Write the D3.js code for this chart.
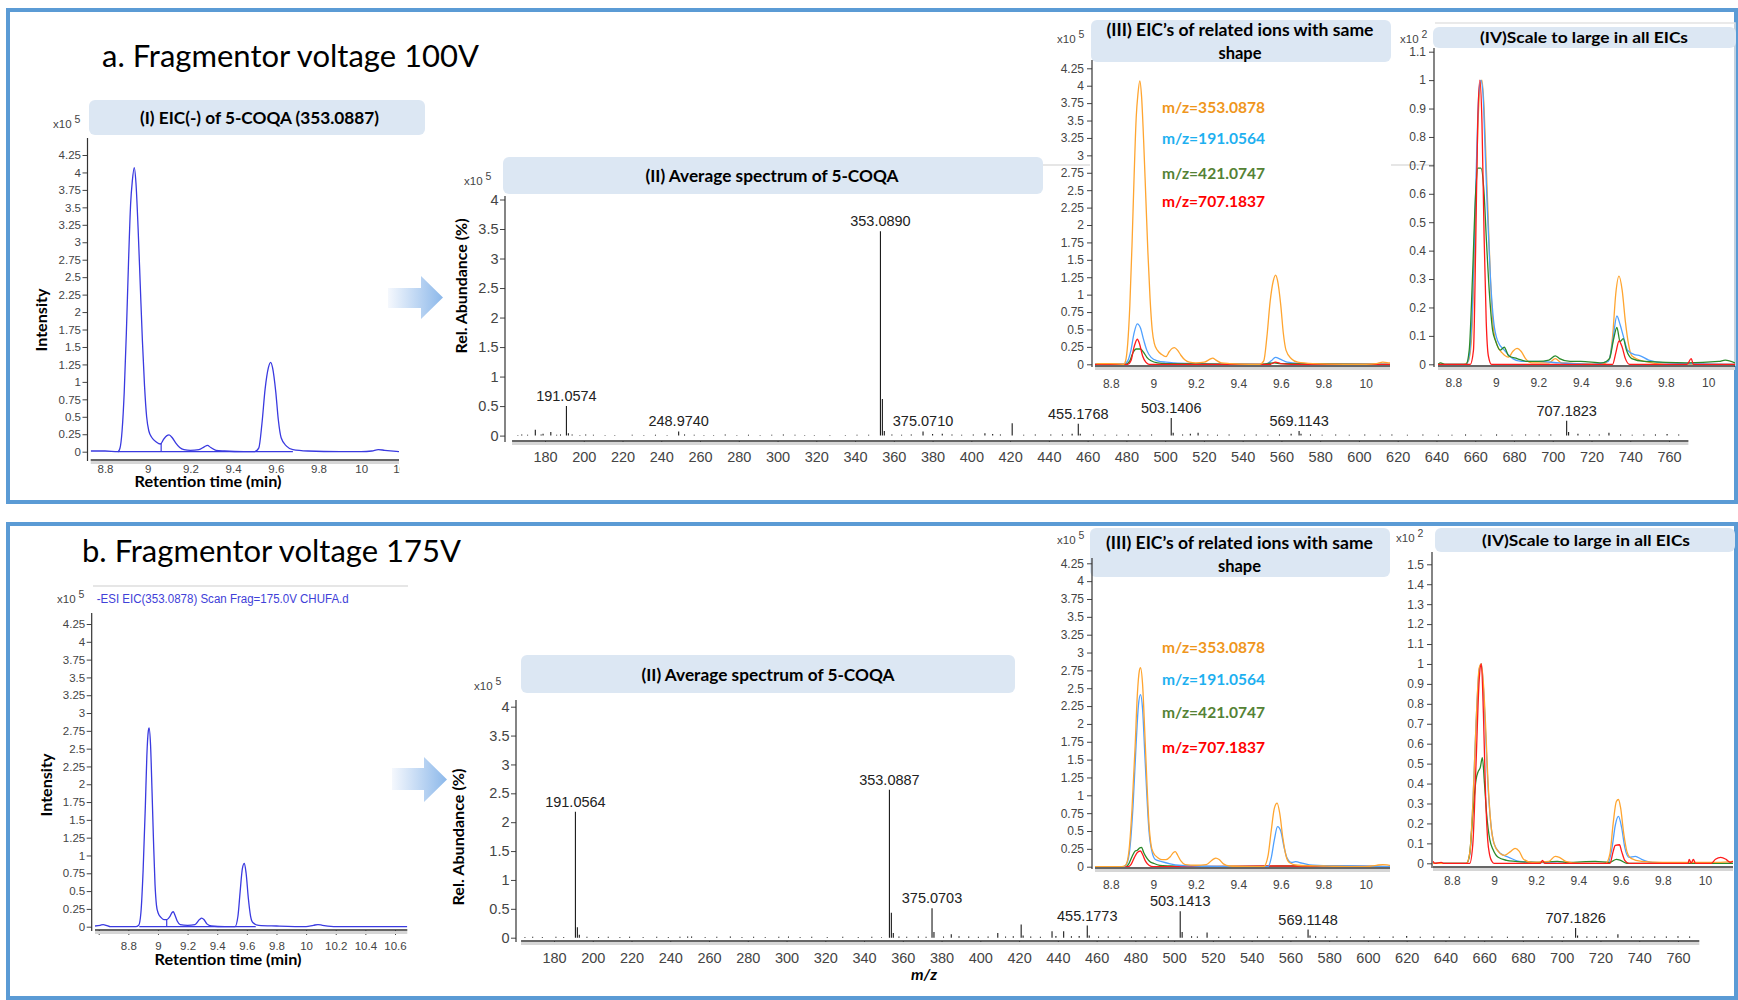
<!DOCTYPE html>
<html>
<head>
<meta charset="utf-8">
<script src="https://cdn.jsdelivr.net/npm/d3@7"></script>
<style>
body { margin: 0; background: #fff; overflow: hidden; }
svg { display: block; }
</style>
</head>
<body>
<script>
// ---- data: retention time (min), intensity (x10^5 or x10^2) ----
const eicA = [[8.733,0.01],[8.80,0.01],[8.86,0.0],[8.87,0.05],[8.88,0.3],[8.89,0.85],[8.90,1.7],[8.91,2.7],[8.92,3.55],[8.928,3.88],[8.937,4.07],[8.945,3.85],[8.955,3.2],[8.965,2.4],[8.975,1.6],[8.985,0.95],[8.995,0.5],[9.005,0.3],[9.02,0.2],[9.04,0.14],[9.06,0.11],[9.075,0.18],[9.09,0.23],[9.1,0.24],[9.115,0.2],[9.13,0.13],[9.15,0.06],[9.17,0.03],[9.2,0.02],[9.24,0.03],[9.265,0.07],[9.28,0.09],[9.295,0.06],[9.32,0.02],[9.36,0.01],[9.45,0.0],[9.5,0.0],[9.52,0.05],[9.535,0.4],[9.55,0.9],[9.565,1.2],[9.576,1.28],[9.585,1.2],[9.6,0.85],[9.612,0.45],[9.625,0.2],[9.65,0.08],[9.68,0.03],[9.75,0.01],[9.9,0.0],[10.0,0.0],[10.05,0.01],[10.08,0.03],[10.11,0.02],[10.177,0.0]];
const eicADrop = [9.063, 0.12];
const eicB = [[8.575,0.01],[8.61,0.02],[8.63,0.03],[8.65,0.02],[8.68,0.0],[8.85,0.0],[8.87,0.02],[8.885,0.2],[8.9,0.8],[8.915,1.7],[8.925,2.4],[8.935,2.75],[8.94,2.79],[8.95,2.55],[8.96,1.9],[8.97,1.2],[8.98,0.6],[8.99,0.3],[9.0,0.2],[9.02,0.13],[9.04,0.1],[9.06,0.1],[9.08,0.14],[9.095,0.2],[9.104,0.21],[9.115,0.16],[9.13,0.08],[9.15,0.03],[9.2,0.02],[9.25,0.03],[9.28,0.1],[9.295,0.12],[9.31,0.1],[9.33,0.04],[9.36,0.01],[9.45,0.0],[9.52,0.0],[9.54,0.15],[9.555,0.5],[9.57,0.82],[9.583,0.89],[9.595,0.75],[9.61,0.4],[9.625,0.15],[9.64,0.06],[9.68,0.02],[9.8,0.01],[10.0,0.0],[10.05,0.02],[10.08,0.03],[10.11,0.02],[10.2,0.0],[10.683,0.0]];
const eicBDrop = [9.059, 0.1];

const iiiA191 = [[8.726,0],[8.86,0],[8.88,0.05],[8.895,0.2],[8.91,0.45],[8.925,0.58],[8.94,0.52],[8.955,0.35],[8.97,0.2],[8.99,0.1],[9.02,0.05],[9.06,0.03],[9.1,0.02],[9.2,0.01],[9.4,0.0],[9.53,0.0],[9.555,0.05],[9.575,0.1],[9.6,0.07],[9.63,0.03],[9.7,0.01],[9.8,0],[10.114,0]];
const iiiA421 = [[8.726,0],[8.87,0],[8.89,0.05],[8.905,0.17],[8.92,0.22],[8.94,0.22],[8.955,0.17],[8.97,0.1],[8.99,0.05],[9.02,0.02],[9.06,0.01],[9.5,0],[9.57,0.02],[9.6,0.01],[10.114,0]];
const iiiA707 = [[8.726,0],[8.88,0],[8.895,0.05],[8.91,0.25],[8.925,0.36],[8.935,0.3],[8.95,0.12],[8.965,0.03],[8.98,0],[9.55,0],[9.575,0.03],[9.6,0.01],[9.65,0],[10.114,0]];

const ivA353 = [[8.728,0],[8.85,0],[8.87,0.01],[8.885,0.08],[8.9,0.4],[8.915,0.82],[8.925,0.97],[8.935,1.0],[8.945,0.9],[8.955,0.7],[8.965,0.5],[8.975,0.3],[8.99,0.12],[9.005,0.07],[9.03,0.04],[9.06,0.025],[9.08,0.045],[9.1,0.056],[9.12,0.045],[9.14,0.02],[9.17,0.005],[9.25,0.005],[9.28,0.02],[9.31,0.005],[9.5,0.0],[9.535,0.02],[9.55,0.1],[9.565,0.25],[9.58,0.31],[9.595,0.26],[9.61,0.15],[9.625,0.07],[9.64,0.03],[9.7,0.01],[9.8,0],[10.126,0]];
const ivA191 = [[8.728,0],[8.86,0],[8.875,0.03],[8.89,0.2],[8.905,0.6],[8.92,0.95],[8.93,1.0],[8.94,0.95],[8.95,0.75],[8.96,0.55],[8.975,0.3],[8.99,0.15],[9.01,0.08],[9.04,0.05],[9.08,0.02],[9.12,0.01],[9.2,0.01],[9.3,0.005],[9.45,0.0],[9.53,0.01],[9.55,0.08],[9.57,0.17],[9.585,0.14],[9.6,0.1],[9.62,0.05],[9.65,0.035],[9.68,0.03],[9.72,0.015],[9.8,0.005],[10.126,0]];
const ivA421 = [[8.728,0],[8.74,0.005],[8.76,0],[8.86,0],[8.875,0.05],[8.89,0.3],[8.905,0.6],[8.915,0.69],[8.93,0.69],[8.945,0.6],[8.955,0.45],[8.97,0.25],[8.985,0.12],[9.0,0.08],[9.02,0.05],[9.04,0.06],[9.06,0.03],[9.1,0.02],[9.15,0.01],[9.2,0.01],[9.25,0.015],[9.28,0.03],[9.3,0.02],[9.35,0.01],[9.4,0.01],[9.5,0.005],[9.535,0.02],[9.555,0.09],[9.57,0.13],[9.585,0.08],[9.6,0.09],[9.615,0.05],[9.64,0.02],[9.7,0.01],[9.9,0.005],[10.05,0.01],[10.08,0.015],[10.126,0.005]];
const ivA707 = [[8.728,0],[8.88,0],[8.895,0.05],[8.905,0.4],[8.915,0.85],[8.925,1.0],[8.935,0.85],[8.945,0.45],[8.955,0.15],[8.965,0.03],[8.98,0],[9.55,0],[9.565,0.04],[9.58,0.082],[9.595,0.06],[9.61,0.02],[9.63,0],[9.9,0],[9.92,0.02],[9.93,0],[10.126,0]];

const iiiB191 = [[8.726,0],[8.86,0],[8.875,0.04],[8.89,0.25],[8.905,0.85],[8.92,1.75],[8.93,2.25],[8.94,2.41],[8.95,2.2],[8.96,1.6],[8.97,1.0],[8.98,0.5],[8.995,0.2],[9.01,0.1],[9.04,0.07],[9.08,0.04],[9.12,0.02],[9.2,0.01],[9.4,0],[9.54,0.0],[9.555,0.12],[9.57,0.38],[9.585,0.56],[9.6,0.5],[9.615,0.28],[9.63,0.12],[9.65,0.06],[9.67,0.07],[9.7,0.05],[9.75,0.02],[9.85,0.01],[9.92,0.01],[10.114,0]];
const iiiB421 = [[8.726,0],[8.87,0],[8.885,0.04],[8.9,0.14],[8.915,0.22],[8.925,0.23],[8.935,0.26],[8.945,0.27],[8.955,0.2],[8.97,0.12],[8.985,0.07],[9.0,0.05],[9.03,0.02],[9.08,0.01],[9.2,0],[9.6,0.01],[10.114,0]];
const iiiB707 = [[8.726,0],[8.88,0],[8.895,0.03],[8.91,0.12],[8.925,0.2],[8.94,0.22],[8.95,0.17],[8.965,0.07],[8.98,0.02],[9.0,0],[9.58,0.01],[10.114,0]];

const ivB353 = [[8.711,0],[8.87,0],[8.885,0.05],[8.9,0.3],[8.915,0.7],[8.93,0.98],[8.94,1.0],[8.95,0.9],[8.96,0.7],[8.97,0.45],[8.985,0.2],[9.0,0.1],[9.02,0.06],[9.05,0.04],[9.08,0.06],[9.1,0.075],[9.12,0.06],[9.14,0.02],[9.18,0.005],[9.26,0.01],[9.29,0.035],[9.31,0.03],[9.34,0.01],[9.4,0],[9.53,0],[9.55,0.05],[9.565,0.2],[9.58,0.31],[9.59,0.32],[9.6,0.28],[9.615,0.15],[9.63,0.06],[9.65,0.025],[9.7,0.01],[9.8,0.005],[10.06,0.005],[10.133,0.01]];
const ivB191 = [[8.711,0],[8.87,0],[8.885,0.04],[8.9,0.3],[8.915,0.7],[8.93,0.97],[8.94,1.0],[8.95,0.88],[8.96,0.66],[8.97,0.42],[8.985,0.2],[9.0,0.1],[9.03,0.05],[9.07,0.03],[9.12,0.01],[9.2,0.005],[9.4,0],[9.54,0],[9.56,0.08],[9.575,0.19],[9.59,0.235],[9.605,0.18],[9.62,0.08],[9.64,0.03],[9.67,0.035],[9.7,0.02],[9.75,0.005],[10.133,0]];
const ivB421 = [[8.711,0],[8.87,0],[8.885,0.05],[8.9,0.25],[8.915,0.42],[8.925,0.46],[8.935,0.48],[8.945,0.53],[8.955,0.4],[8.965,0.25],[8.98,0.12],[8.995,0.07],[9.02,0.03],[9.06,0.015],[9.1,0.01],[9.2,0.005],[9.3,0.01],[9.35,0.005],[9.48,0.01],[9.55,0.005],[9.58,0.02],[9.6,0.015],[9.63,0.0],[10.133,0]];
const ivB707 = [[8.711,0.01],[8.72,0.0],[8.75,0.005],[8.76,0],[8.885,0],[8.9,0.1],[8.915,0.5],[8.93,0.92],[8.94,1.0],[8.95,0.75],[8.96,0.35],[8.97,0.12],[8.98,0.04],[8.99,0.01],[9.0,0],[9.22,0],[9.23,0.015],[9.24,0],[9.55,0],[9.565,0.06],[9.575,0.09],[9.595,0.093],[9.605,0.06],[9.62,0.015],[9.64,0],[9.92,0],[9.925,0.02],[9.935,0],[9.945,0.02],[9.955,0],[10.03,0],[10.05,0.02],[10.075,0.03],[10.1,0.02],[10.12,0.005],[10.133,0.01]];

// ---- data: average spectra, m/z and abundance (x10^5) ----
const specAPeaks = [[175.0,0.10],[179.0,0.03],[183.0,0.06],[191.0574,0.50],[192.06,0.04],[201.0,0.02],[248.974,0.07],[353.089,3.46],[354.092,0.62],[355.09,0.08],[375.071,0.07],[385.0,0.03],[407.0,0.04],[421.07,0.21],[455.1768,0.20],[456.18,0.03],[503.1406,0.30],[504.14,0.05],[517.0,0.05],[569.1143,0.08],[570.1,0.03],[707.1823,0.25],[708.18,0.06],[729.0,0.05]];
const specANoise = [[166,0.01],[168,0.02],[171,0.015],[178,0.02],[186,0.015],[188,0.02],[194,0.02],[198,0.01],[205,0.015],[211,0.01],[216,0.01],[225,0.015],[231,0.01],[237,0.015],[243,0.01],[252,0.02],[257,0.015],[262,0.01],[267,0.01],[273,0.02],[279,0.01],[285,0.015],[291,0.01],[297,0.015],[303,0.02],[309,0.015],[314,0.01],[319,0.01],[327,0.01],[335,0.01],[341,0.015],[347,0.015],[359,0.02],[364,0.015],[369,0.02],[380,0.025],[390,0.02],[395,0.015],[401,0.02],[411,0.025],[415,0.02],[427,0.015],[433,0.02],[441,0.02],[447,0.02],[452,0.03],[463,0.02],[469,0.015],[475,0.015],[481,0.02],[487,0.015],[493,0.02],[509,0.02],[513,0.03],[522,0.02],[527,0.015],[533,0.02],[541,0.015],[547,0.02],[553,0.015],[559,0.02],[565,0.03],[575,0.02],[581,0.015],[588,0.02],[595,0.015],[603,0.02],[611,0.015],[617,0.02],[625,0.015],[633,0.02],[641,0.015],[648,0.015],[655,0.02],[663,0.015],[671,0.02],[679,0.015],[686,0.02],[693,0.02],[699,0.02],[713,0.03],[719,0.02],[724,0.02],[735,0.02],[741,0.015],[747,0.02],[753,0.02],[759,0.025],[765,0.02]];
const specALabels = ["191.0574","248.9740","353.0890","375.0710","455.1768","503.1406","569.1143","707.1823"];

const specBPeaks = [[191.0564,2.18],[192.06,0.18],[193.06,0.05],[248.97,0.02],[353.0887,2.56],[354.09,0.43],[355.09,0.08],[375.0703,0.51],[376.07,0.1],[385.0,0.06],[409.0,0.08],[421.07,0.23],[422.07,0.04],[437.0,0.11],[443.0,0.11],[455.1773,0.21],[456.18,0.04],[503.1413,0.46],[504.14,0.1],[517.0,0.09],[569.1148,0.14],[570.12,0.04],[620.0,0.03],[707.1826,0.17],[708.19,0.04],[729.0,0.06]];
const specBNoise = [[165,0.01],[169,0.015],[174,0.01],[181,0.015],[185,0.01],[197,0.015],[203,0.01],[208,0.015],[214,0.01],[219,0.015],[226,0.01],[233,0.015],[239,0.01],[245,0.015],[251,0.02],[258,0.01],[264,0.015],[271,0.02],[277,0.01],[283,0.015],[289,0.01],[296,0.015],[301,0.02],[307,0.01],[313,0.015],[321,0.01],[329,0.015],[337,0.01],[344,0.015],[349,0.01],[358,0.02],[362,0.015],[368,0.02],[372,0.015],[381,0.02],[389,0.025],[394,0.02],[399,0.015],[404,0.02],[413,0.02],[417,0.025],[426,0.02],[431,0.015],[439,0.03],[447,0.025],[451,0.03],[461,0.02],[466,0.02],[472,0.015],[478,0.02],[485,0.02],[491,0.015],[497,0.02],[509,0.025],[512,0.02],[523,0.015],[529,0.02],[536,0.015],[543,0.02],[549,0.015],[556,0.02],[563,0.015],[573,0.025],[578,0.02],[584,0.02],[591,0.015],[598,0.02],[606,0.015],[613,0.02],[627,0.015],[634,0.02],[642,0.015],[650,0.02],[657,0.015],[664,0.02],[672,0.015],[680,0.02],[688,0.015],[695,0.02],[701,0.015],[713,0.02],[718,0.02],[723,0.015],[736,0.02],[742,0.015],[748,0.02],[754,0.02],[760,0.025],[766,0.02]];
const specBLabels = ["191.0564","353.0887","375.0703","455.1773","503.1413","569.1148","707.1826"];

// ---- tick labels and legend ----
const rtTicksA = [8.8,9,9.2,9.4,9.6,9.8,10,10.2];
const rtTicksB = [8.6,8.8,9,9.2,9.4,9.6,9.8,10,10.2,10.4,10.6];
const rtTicksSmall = [8.8,9,9.2,9.4,9.6,9.8,10];
const mzTicks = [180,200,220,240,260,280,300,320,340,360,380,400,420,440,460,480,500,520,540,560,580,600,620,640,660,680,700,720,740,760];
const yTicks425 = [0,0.25,0.5,0.75,1,1.25,1.5,1.75,2,2.25,2.5,2.75,3,3.25,3.5,3.75,4,4.25];
const yTicks4 = [0,0.5,1,1.5,2,2.5,3,3.5,4];
const yTicks11 = [0,0.1,0.2,0.3,0.4,0.5,0.6,0.7,0.8,0.9,1,1.1];
const yTicks15 = [0,0.1,0.2,0.3,0.4,0.5,0.6,0.7,0.8,0.9,1,1.1,1.2,1.3,1.4,1.5];
const ionLabels = ["m/z=353.0878","m/z=191.0564","m/z=421.0747","m/z=707.1837"];
const ionTextColors = ["#ef961c","#1eb0f0","#548235","#ff0000"];
const ionLineColors = ["#ffa530","#4ea0ff","#2a8a2a","#ff1a1a"];

const TICKFONT = "'Liberation Sans', Arial, sans-serif";
const CAL = "Lato, 'Open Sans', sans-serif";

const svg = d3.select("body").append("svg").attr("width", 1738).attr("height", 1000);
const defs = svg.append("defs");
const grad = defs.append("linearGradient").attr("id", "arrowGrad");
grad.append("stop").attr("offset", "0%").attr("stop-color", "#f5f8fd");
grad.append("stop").attr("offset", "100%").attr("stop-color", "#8cb8ea");

function text(x, y, s, o) {
  o = o || {};
  const t = svg.append("text").attr("x", x).attr("y", y).text(s)
    .attr("font-family", o.family || CAL).attr("font-size", o.size || 16)
    .attr("font-weight", o.weight || "normal").attr("fill", o.fill || "#000")
    .attr("text-anchor", o.anchor || "start");
  if (o.italic) t.attr("font-style", "italic");
  if (o.rotate) t.attr("transform", `rotate(-90,${x},${y})`);
  if (o.width) t.attr("textLength", o.width).attr("lengthAdjust", "spacingAndGlyphs");
  return t;
}

function header(x, y, w, h, lines, cx, baselines, size, width) {
  svg.append("rect").attr("x", x).attr("y", y).attr("width", w).attr("height", h)
    .attr("rx", 6).attr("fill", "#dce7f3");
  text(cx, baselines[0], lines[0], { weight: "bold", size: size, anchor: "middle", width: width });
  if (lines[1]) text(cx, baselines[1], lines[1], { weight: "bold", size: size, anchor: "middle" });
}

function exponent(x, y, p) {
  const t = svg.append("text").attr("x", x).attr("y", y).attr("font-family", TICKFONT)
    .attr("font-size", 11.5).attr("fill", "#444").text("x10");
  t.append("tspan").attr("dx", 3).attr("dy", -5).attr("font-size", 10.5).text(p);
}

function arrow(x0, xh, x1, ys0, ys1, yh0, yh1) {
  const ym = (yh0 + yh1) / 2;
  svg.append("path").attr("fill", "url(#arrowGrad)")
    .attr("d", `M${x0},${ys0}L${xh},${ys0}L${xh},${yh0}L${x1},${ym}L${xh},${yh1}L${xh},${ys1}L${x0},${ys1}Z`);
}

let clipId = 0;
function clipRect(x, y, w, h) {
  const id = "clip" + (clipId++);
  defs.append("clipPath").attr("id", id).append("rect")
    .attr("x", x).attr("y", y).attr("width", w).attr("height", h);
  return `url(#${id})`;
}

function styleAxis(g, fs) {
  g.select(".domain").remove();
  g.selectAll(".tick line").attr("stroke", "#444");
  g.selectAll(".tick text").attr("fill", "#444").attr("font-size", fs).attr("font-family", TICKFONT);
}

function axes(c, x, y) {
  const ya = svg.append("g").attr("transform", `translate(${c.axX},0)`)
    .call(d3.axisLeft(y).tickValues(c.yTicks).tickFormat(d => String(d)).tickSize(5).tickPadding(c.yPad));
  styleAxis(ya, c.fs);
  svg.append("line").attr("x1", c.axX).attr("x2", c.axX).attr("y1", c.axTop).attr("y2", c.axY + 1)
    .attr("stroke", "#333").attr("stroke-width", 1.2);
  const xa = svg.append("g").attr("transform", `translate(0,${c.axY})`)
    .call(d3.axisBottom(x).tickValues(c.xTicks)
      .tickFormat(d => (c.xHide || []).includes(d) ? "" : String(d))
      .tickSize(c.xTickSize || 0).tickPadding(c.xPad));
  styleAxis(xa, c.fs);
  // clip box is in the axis group's own (translated) coordinates
  if (c.xClip) xa.attr("clip-path", clipRect(c.xr[0] - 30, 0, c.xClip - c.xr[0] + 30, 40));
  svg.append("line").attr("x1", c.xr[0]).attr("x2", c.xr[1]).attr("y1", c.axY + 2.5).attr("y2", c.axY + 2.5)
    .attr("stroke", "#d6d6d6").attr("stroke-width", 3);
  svg.append("line").attr("x1", c.xr[0]).attr("x2", c.xr[1]).attr("y1", c.axY).attr("y2", c.axY)
    .attr("stroke", "#333").attr("stroke-width", 1.4);
}

function eicPanel(c) {
  const x = d3.scaleLinear().domain(c.xd).range(c.xr);
  const y = d3.scaleLinear().domain(c.yd).range(c.yr);
  axes(c, x, y);
  const line = d3.line().x(d => x(d[0])).y(d => y(d[1])).curve(d3.curveMonotoneX);
  const g = svg.append("g").attr("clip-path", clipRect(c.xr[0], c.axTop - 5, c.xr[1] - c.xr[0], c.axY - c.axTop + 4));
  c.series.forEach((s, i) => {
    g.append("path").datum(s).attr("d", line).attr("fill", "none")
      .attr("stroke", c.colors[i]).attr("stroke-width", 1.3).attr("stroke-linejoin", "round");
  });
  if (c.drop) {
    g.append("line").attr("x1", x(c.drop[0])).attr("x2", x(c.drop[0]))
      .attr("y1", y(0)).attr("y2", y(c.drop[1])).attr("stroke", c.colors[0]).attr("stroke-width", 1.2);
    g.append("line").attr("x1", x(c.base[0])).attr("x2", x(c.base[1]))
      .attr("y1", y(0)).attr("y2", y(0)).attr("stroke", c.colors[0]).attr("stroke-width", 1.2);
  }
  return { x, y };
}

function specPanel(c) {
  const x = d3.scaleLinear().domain(c.xd).range(c.xr);
  const y = d3.scaleLinear().domain(c.yd).range(c.yr);
  axes(c, x, y);
  const sticks = c.noise.concat(c.peaks);
  svg.append("g").selectAll("line").data(sticks).join("line")
    .attr("x1", d => x(d[0])).attr("x2", d => x(d[0]))
    .attr("y1", y(0)).attr("y2", d => y(d[1]))
    .attr("stroke", "#1a1a1a").attr("stroke-width", 1.1);
  svg.append("g").selectAll("text").data(c.labels).join("text")
    .attr("x", d => x(+d)).attr("y", d => y(c.peaks.find(p => Math.abs(p[0] - (+d)) < 0.01)[1]) - 5)
    .attr("text-anchor", "middle").attr("font-family", TICKFONT).attr("font-size", 14.5)
    .attr("fill", "#222").text(d => d);
}

function legend(x, baselines) {
  ionLabels.forEach((s, i) => text(x, baselines[i], s, { weight: "bold", size: 15.5, fill: ionTextColors[i], width: 103 }));
}

// ---- panel frames and titles ----
svg.append("rect").attr("x", 8).attr("y", 10).attr("width", 1728).attr("height", 492)
  .attr("fill", "none").attr("stroke", "#5b9bd5").attr("stroke-width", 4);
svg.append("rect").attr("x", 8).attr("y", 524).attr("width", 1728).attr("height", 474)
  .attr("fill", "none").attr("stroke", "#5b9bd5").attr("stroke-width", 4);
text(102, 67, "a. Fragmentor voltage 100V", { size: 31, width: 377 });
text(82, 562, "b. Fragmentor voltage 175V", { size: 31, width: 379 });

// faint leftovers of pasted screenshots
svg.append("line").attr("x1", 1043).attr("x2", 1090).attr("y1", 165).attr("y2", 165).attr("stroke", "#e6e6e6").attr("stroke-width", 2);
svg.append("line").attr("x1", 1391).attr("x2", 1434).attr("y1", 165).attr("y2", 165).attr("stroke", "#e6e6e6").attr("stroke-width", 2);
svg.append("path").attr("d", "M1435,23H1735V366").attr("fill", "none").attr("stroke", "#e3e3e3").attr("stroke-width", 1.5);
svg.append("line").attr("x1", 93).attr("x2", 408).attr("y1", 586).attr("y2", 586).attr("stroke", "#e6e6e6").attr("stroke-width", 2);

arrow(388, 421, 443, 288, 308, 276, 319);
arrow(392, 424, 447, 768, 790, 757, 802);

// ---- (I) EIC panels ----
header(89, 100, 336, 35, ["(I) EIC(-) of 5-COQA (353.0887)"], 259.5, [124], 17, 239);
exponent(53, 128, "5");
eicPanel({ xd: [8.733, 10.177], xr: [90.7, 399], yd: [0, 4.25], yr: [451.7, 155],
  axX: 87.5, axTop: 138, axY: 460, yTicks: yTicks425, xTicks: rtTicksA, fs: 11.5,
  yPad: 1.5, xPad: 4.8, xClip: 400, series: [eicA], colors: ["#3a3ae0"], drop: eicADrop, base: [8.86, 9.68] });
text(47, 320, "Intensity", { weight: "bold", size: 15, anchor: "middle", rotate: true, width: 63 });
text(208, 487, "Retention time (min)", { weight: "bold", size: 15, anchor: "middle", width: 147 });

exponent(57, 603, "5");
text(96.7, 603, "-ESI EIC(353.0878) Scan Frag=175.0V CHUFA.d", { family: TICKFONT, size: 12, fill: "#4040d8", width: 252 });
eicPanel({ xd: [8.575, 10.683], xr: [95, 407.3], yd: [0, 4.25], yr: [926.7, 624],
  axX: 91.7, axTop: 613, axY: 930, yTicks: yTicks425, xTicks: rtTicksB, xHide: [8.6], xTickSize: 5, fs: 11.5,
  yPad: 1.5, xPad: 6.8, series: [eicB], colors: ["#3a3ae0"], drop: eicBDrop, base: [8.874, 9.66] });
text(51.7, 785, "Intensity", { weight: "bold", size: 15, anchor: "middle", rotate: true, width: 63 });
text(228, 965, "Retention time (min)", { weight: "bold", size: 15, anchor: "middle", width: 147 });

// ---- (II) average spectra ----
header(503, 157, 540, 37, ["(II) Average spectrum of 5-COQA"], 772, [182], 17.5, 253);
exponent(464, 185, "5");
specPanel({ xd: [163, 770], xr: [512.05, 1688.4], yd: [0, 4], yr: [435.6, 199.5],
  axX: 505, axTop: 196, axY: 441, yTicks: yTicks4, xTicks: mzTicks, xTickSize: 3, fs: 14.5, yPad: 1.5, xPad: 8,
  peaks: specAPeaks, noise: specANoise, labels: specALabels });
text(467, 286, "Rel. Abundance (%)", { weight: "bold", size: 15.5, anchor: "middle", rotate: true, width: 135 });

header(521, 655, 494, 38, ["(II) Average spectrum of 5-COQA"], 768, [681], 17.5, 253);
exponent(474, 690, "5");
specPanel({ xd: [163, 771], xr: [521.05, 1699.3], yd: [0, 4], yr: [937.7, 706.7],
  axX: 516, axTop: 700, axY: 941, yTicks: yTicks4, xTicks: mzTicks, xTickSize: 3, fs: 14.5, yPad: 1.5, xPad: 9,
  peaks: specBPeaks, noise: specBNoise, labels: specBLabels });
text(464, 837, "Rel. Abundance (%)", { weight: "bold", size: 15.5, anchor: "middle", rotate: true, width: 137 });
text(924, 980, "m/z", { weight: "bold", size: 15, anchor: "middle", italic: true, width: 26 });

// ---- (III) EICs of related ions ----
header(1091, 20, 300, 42, ["(III) EIC’s of related ions with same", "shape"], 1240, [36, 59], 16.5, 267);
exponent(1057, 43, "5");
eicPanel({ xd: [8.726, 10.114], xr: [1095, 1390], yd: [0, 4.25], yr: [364.3, 68.3],
  axX: 1092, axTop: 60, axY: 366, yTicks: yTicks425, xTicks: rtTicksSmall, fs: 12, yPad: 3, xPad: 13.5,
  series: [iiiA191, iiiA421, iiiA707, eicA], colors: [ionLineColors[1], ionLineColors[2], ionLineColors[3], ionLineColors[0]] });
legend(1162, [113, 144, 179, 207]);

header(1090, 528, 300, 49, ["(III) EIC’s of related ions with same", "shape"], 1239.5, [549, 572], 16.5, 267);
exponent(1057, 544, "5");
eicPanel({ xd: [8.726, 10.114], xr: [1095, 1390], yd: [0, 4.25], yr: [866.7, 563.3],
  axX: 1092, axTop: 558, axY: 868, yTicks: yTicks425, xTicks: rtTicksSmall, fs: 12, yPad: 3, xPad: 12.5,
  series: [iiiB421, iiiB707, iiiB191, eicB], colors: [ionLineColors[2], ionLineColors[3], ionLineColors[1], ionLineColors[0]] });
legend(1162, [652.7, 685, 718, 752.7]);

// ---- (IV) normalised EICs ----
header(1433, 27, 303, 21, ["(IV)Scale to large in all EICs"], 1584, [43], 16, 208);
exponent(1400, 43, "2");
eicPanel({ xd: [8.728, 10.126], xr: [1438, 1735], yd: [0, 1.1], yr: [364.3, 51.7],
  axX: 1434, axTop: 48, axY: 366, yTicks: yTicks11, xTicks: rtTicksSmall, fs: 12, yPad: 3, xPad: 12.5,
  series: [ivA353, ivA191, ivA421, ivA707], colors: [ionLineColors[0], ionLineColors[1], ionLineColors[2], ionLineColors[3]] });

header(1435, 528, 300, 24, ["(IV)Scale to large in all EICs"], 1586, [546], 16, 208);
exponent(1396, 542, "2");
eicPanel({ xd: [8.711, 10.133], xr: [1433, 1733], yd: [0, 1.5], yr: [863.3, 564.3],
  axX: 1432, axTop: 552, axY: 867, yTicks: yTicks15, xTicks: rtTicksSmall, fs: 12, yPad: 3, xPad: 9.5,
  series: [ivB191, ivB421, ivB353, ivB707], colors: [ionLineColors[1], ionLineColors[2], ionLineColors[0], ionLineColors[3]] });
</script>
</body>
</html>
